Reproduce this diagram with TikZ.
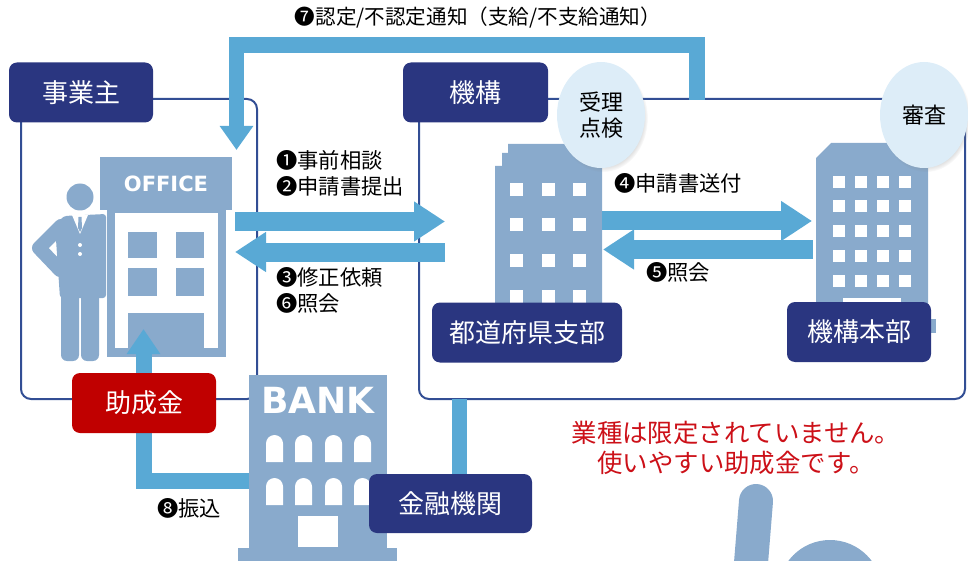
\documentclass[tikz,border=0pt]{standalone}
\usepackage{fontspec}
\setmainfont{Noto Sans CJK JP}
\newfontfamily\signfont{DejaVu Sans}
\usetikzlibrary{arrows.meta,shapes.geometric,shadows}

\definecolor{navy}{RGB}{42,54,128}
\definecolor{framecol}{RGB}{50,78,148}
\definecolor{flowblue}{RGB}{89,169,213}
\definecolor{iconblue}{RGB}{137,170,204}
\definecolor{bubble}{RGB}{221,237,248}
\definecolor{grantred}{RGB}{192,0,0}
\definecolor{notered}{RGB}{204,16,24}

\tikzset{
  namebox/.style={fill=navy, rounded corners=8pt, text=white, inner sep=0pt,
    minimum height=60pt, font=\fontsize{26}{30}\selectfont},
  groupbox/.style={draw=framecol, line width=2pt, rounded corners=10pt},
  flowarrow/.style={draw=flowblue, line width=19pt, -{Triangle[width=38pt,length=31pt]}},
  band/.style={draw=flowblue, line width=15.5pt, line join=miter},
  bubblenode/.style={ellipse, fill=bubble, minimum width=88pt, minimum height=106pt,
    inner sep=0pt, align=center, font=\fontsize{22}{26}\selectfont,
    circular drop shadow={shadow scale=1.02, shadow xshift=2pt, shadow yshift=-3pt, opacity=.35}},
  memo/.style={inner sep=0pt, anchor=west, align=left, font=\fontsize{21.3}{26}\selectfont},
  signtext/.style={inner sep=0pt, text=white},
}

\begin{document}
\begin{tikzpicture}[x=1pt, y=-1pt]
\useasboundingbox (0,0) rectangle (968,561);
\clip (0,0) rectangle (968,561);

\draw[iconblue, line width=34pt, line cap=round] (756,501) -- (748,600);
\fill[iconblue] (830,592) circle[radius=52pt];

\draw[groupbox] (21,99) rectangle (257,399);
\draw[groupbox] (419,99) rectangle (965,399);

\fill[iconblue] (80,197) circle[radius=13.5pt];
\fill[iconblue, rounded corners=3pt] (55,225) -- (64,216) -- (106,214) -- (106,298) -- (60,298) -- cycle;
\draw[iconblue, line width=14pt, line cap=round, line join=round] (61,226) -- (39,248) -- (60,270);
\fill[iconblue, rounded corners=6pt] (61,290) rectangle (79,361);
\fill[iconblue, rounded corners=6pt] (81,290) rectangle (99,361);
\fill[white] (72,215) -- (80,234) -- (88,215) -- cycle;
\fill[iconblue] (78.5,217) -- (81.5,217) -- (82,228) -- (80,232) -- (78,228) -- cycle;
\fill[white] (80,245) circle[radius=2pt];
\fill[white] (80,254) circle[radius=2pt];

\fill[iconblue] (100,157) rectangle (232,210);
\fill[iconblue] (107,210) rectangle (226,357);
\fill[white] (115,213) rectangle (218,348);
\fill[iconblue] (128,232) rectangle (157,258);
\fill[iconblue] (176,232) rectangle (204,258);
\fill[iconblue] (128,268) rectangle (157,296);
\fill[iconblue] (176,268) rectangle (204,296);
\fill[iconblue] (128,313) rectangle (204,348);
\node[signtext, font=\signfont\bfseries\fontsize{21}{21}\selectfont] (officesign) at (166,183.5) {OFFICE};

\fill[iconblue] (495,310) -- (495,166) -- (502,166) -- (502,153) -- (508,153) -- (508,144) -- (602,144) -- (602,310) -- cycle;
\foreach \x in {510,541.5,573}
  \foreach \y in {183,218.5,254,289.5}
    \fill[white] (\x,\y) rectangle ++(13,13);

\fill[iconblue] (816,319) -- (816,158) -- (831,143) -- (928,143) -- (928,319) -- cycle;
\fill[iconblue] (812,319) rectangle (936,333);
\foreach \x in {833,855,877,899}
  \foreach \y in {176,200.5,225,250,275}
    \fill[white] (\x,\y) rectangle ++(12,12);
\fill[white] (843,298) rectangle (901,312);

\fill[iconblue] (249,375) rectangle (387,550);
\fill[iconblue] (238,548) rectangle (397,561);
\foreach \x in {266,295,325,354}
  \foreach \y in {435,478}
    \fill[white] (\x,\y+27) -- (\x,\y+8.5) arc[start angle=180, end angle=0, radius=8.5pt] -- (\x+17,\y+27) -- cycle;
\fill[white] (298,516) rectangle (338,547);
\node[signtext, font=\signfont\bfseries\fontsize{36}{36}\selectfont] (bank) at (318,400.5) {BANK};

\coordinate (officeR1) at (235,221.5);
\coordinate (shibuL1) at (445,221.5);
\coordinate (officeR2) at (235,252);
\coordinate (shibuL2) at (445,252);
\coordinate (shibuR1) at (602,221);
\coordinate (honbuL1) at (812,221);
\coordinate (shibuR2) at (603,249.5);
\coordinate (honbuL2) at (813,249.5);
\draw[flowarrow] (officeR1) -- (shibuL1);
\draw[flowarrow] (shibuL2) -- (officeR2);
\draw[flowarrow] (shibuR1) -- (honbuL1);
\draw[flowarrow] (honbuL2) -- (shibuR2);

\coordinate (kikouTop) at (697,100);
\coordinate (bend) at (467,45);
\coordinate (officeTop) at (236.5,150);
\draw[band, -{Triangle[width=32pt,length=24pt]}] (kikouTop) |- (bend) -| (officeTop);

\coordinate (bankW) at (249,480.5);
\coordinate (door) at (143.5,329);
\draw[band, line width=16pt, -{Triangle[width=32pt,length=25pt]}] (bankW) -| (door);

\node[namebox, minimum width=144pt] (jigyo) at (81,92.5) {事業主};
\node[namebox, minimum width=145pt] (kikou) at (475.5,92.5) {機構};
\node[namebox, minimum width=190pt] (shibu) at (527,332.5) {都道府県支部};
\node[namebox, minimum width=144pt] (honbu) at (859,332) {機構本部};
\node[namebox, minimum width=163pt, minimum height=59pt] (kinyu) at (450.5,503.5) {金融機関};
\node[namebox, fill=grantred, minimum width=144pt] (josei) at (144,403) {助成金};

\coordinate (kikouBot) at (459.5,399);
\draw[band, line width=15pt] (kikouBot) -- (kikouBot |- kinyu.north);

\node[bubblenode] (juri) at (601,115) {受理\\点検};
\node[bubblenode] (shinsa) at (924,115) {審査};

\node[inner sep=0pt, font=\fontsize{20.6}{24}\selectfont] (notice) at (478,18) {❼認定/不認定通知（支給/不支給通知）};
\node[memo] (memo12) at (276,173) {❶事前相談\\❷申請書提出};
\node[memo] (memo36) at (276,290.5) {❸修正依頼\\❻照会};
\node[memo] (memo4) at (614,183) {❹申請書送付};
\node[memo] (memo5) at (646,272) {❺照会};
\node[memo] (memo8) at (157,508) {❽振込};
\node[inner sep=0pt, text=notered, align=center, font=\fontsize{25.4}{30}\selectfont] (note) at (736,448) {業種は限定されていません。\\使いやすい助成金です。};
\end{tikzpicture}
\end{document}
